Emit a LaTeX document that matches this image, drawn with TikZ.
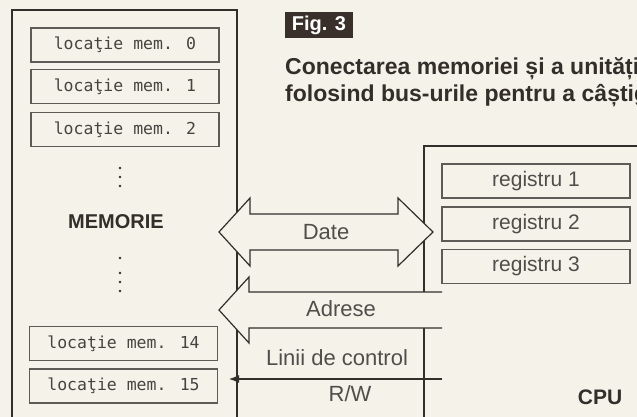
\documentclass[tikz,border=0pt]{standalone}
\usepackage{fontspec}
\setmainfont{Liberation Sans}
\newfontfamily\cellfont{DejaVu Sans Mono}
\usetikzlibrary{arrows.meta}
\definecolor{paper}{RGB}{245,242,234}
\definecolor{ink}{RGB}{52,46,42}
\definecolor{cellline}{RGB}{95,90,85}
\definecolor{figbox}{RGB}{58,48,43}
\begin{document}
\begin{tikzpicture}[x=1pt,y=-1pt,
  cell/.style={draw=cellline, line width=1.1pt, minimum width=188pt, minimum height=34pt, inner sep=0pt, font=\cellfont\fontsize{16.5}{18}\selectfont, text=ink!90},
  reg/.style={draw=cellline, line width=1.1pt, minimum width=188pt, minimum height=34pt, inner sep=0pt, font=\fontsize{21}{24}\selectfont, text=ink!85},
  lbl/.style={inner sep=0pt, font=\fontsize{22}{26}\selectfont, text=ink!85},
  bus/.style={fill=paper, draw=ink, line width=1.2pt, line join=miter},
  boxline/.style={draw=ink, line width=1.8pt},
  dotmark/.style={fill=ink}]
\path[use as bounding box] (0,0) rectangle (637,417);
\clip (0,0) rectangle (637,417);
\fill[paper] (0,0) rectangle (637,417);

% memory box
\draw[boxline] (237,430) -- (237,10) -- (12,10) -- (12,430);
% cpu box
\draw[boxline, line width=1.5pt] (424,292) -- (424,146) -- (650,146);
\draw[boxline, line width=1.5pt] (424,328) -- (424,430);

% memory cells
\node[cell] (c0) at (125,45) {locaţie mem. 0};
\node[cell] (c1) at (125,86.5) {locaţie mem. 1};
\node[cell] (c2) at (125,129.5) {locaţie mem. 2};
\node[cell] (c14) at (123.5,343.5) {locaţie mem. 14};
\node[cell] (c15) at (123.5,386) {locaţie mem. 15};

% dots
\foreach \y in {168,177,186,258,273,282,291} \fill[dotmark] (120,\y) circle (1.3pt);

\node[inner sep=0pt, font=\bfseries\fontsize{20}{24}\selectfont, text=ink] (mem) at (116,222) {MEMORIE};

% registers
\node[reg] (r1) at (536,181) {registru 1};
\node[reg] (r2) at (536,224) {registru 2};
\node[reg] (r3) at (536,266.5) {registru 3};

% data bus (double arrow)
\draw[bus] (219,232) -- (250,198) -- (250,214) -- (398,214) -- (398,198) -- (433,232)
  -- (398,266) -- (398,250) -- (250,250) -- (250,266) -- cycle;

% address bus
\fill[paper] (219,310) -- (249,277) -- (249,292) -- (442,292) -- (442,328) -- (249,328) -- (249,343) -- cycle;
\draw[draw=ink, line width=1.2pt, line join=miter] (442,292) -- (249,292) -- (249,277) -- (219,310)
  -- (249,343) -- (249,328) -- (442,328);

% control line
\coordinate (ctlR) at (442,379);
\coordinate (ctlL) at (229,379);
\draw[draw=ink, line width=1.2pt, -{Latex[length=10pt,width=8pt]}] (ctlR) -- (ctlL);

% labels
\node[lbl] (date) at (326,232) {Date};
\node[lbl] (adr) at (341,309) {Adrese};
\node[lbl] (ctl) at (337,358) {Linii de control};
\node[lbl] (rw) at (350,394) {R/W};
\node[inner sep=0pt, font=\bfseries\fontsize{21}{24}\selectfont, text=ink] (cpu) at (600,397) {CPU};

% figure title
\node[fill=figbox, text=white, font=\bfseries\fontsize{20}{22}\selectfont, minimum width=68pt, minimum height=26pt, inner sep=0pt] (fig) at (319,25) {Fig. 3};
\node[anchor=base west, inner sep=0pt, font=\bfseries\fontsize{23}{27}\selectfont, text=ink] (cap1) at (285,75) {Conectarea memoriei și a unități};
\node[anchor=base west, inner sep=0pt, font=\bfseries\fontsize{23}{27}\selectfont, text=ink] (cap2) at (285,102) {folosind bus-urile pentru a câștig};
\end{tikzpicture}
\end{document}
